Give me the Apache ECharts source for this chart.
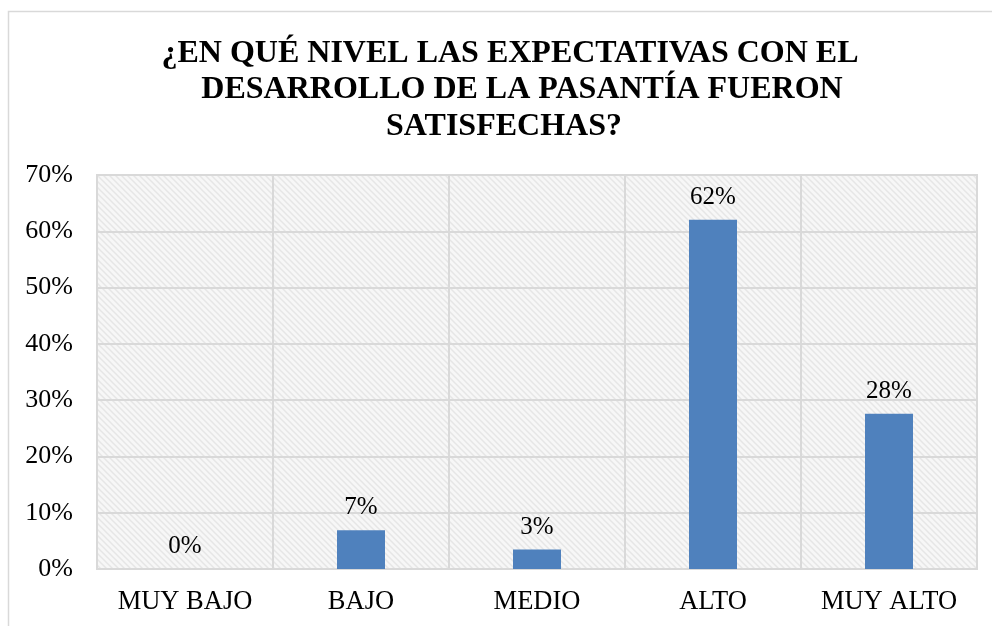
<!DOCTYPE html>
<html>
<head>
<meta charset="utf-8">
<script src="https://cdn.jsdelivr.net/npm/echarts@6/dist/echarts.min.js"></script>
<style>
  html, body { margin: 0; padding: 0; background: #fff; }
  #chart { width: 992px; height: 626px; }
</style>
</head>
<body>
<div id="chart"></div>
<script>
// datos (n = 29)
const categories = ['MUY BAJO', 'BAJO', 'MEDIO', 'ALTO', 'MUY ALTO']
const valores = [0, 6.9, 3.45, 62.07, 27.59]
const yTicks = [0, 10, 20, 30, 40, 50, 60, 70]

const tituloLineas = ['¿EN QUÉ NIVEL LAS EXPECTATIVAS CON EL', 'DESARROLLO DE LA PASANTÍA FUERON', 'SATISFECHAS?']
const fuente = '"Liberation Serif", "Times New Roman", serif'

// trama diagonal del área de trazado
const makePattern = () => {
  const c = document.createElement('canvas')
  c.width = 6
  c.height = 6
  const ctx = c.getContext('2d')
  ctx.fillStyle = '#f7f7f7'
  ctx.fillRect(0, 0, 6, 6)
  ctx.strokeStyle = '#e6e6e6'
  ctx.lineWidth = 1.5
  ctx.beginPath()
  ctx.moveTo(-1, -1)
  ctx.lineTo(7, 7)
  ctx.moveTo(-4, 2)
  ctx.lineTo(4, 10)
  ctx.moveTo(2, -4)
  ctx.lineTo(10, 4)
  ctx.stroke()
  return c
}

// cada línea del título tiene su propio centro, como en el original
const centrosX = [510, 522, 504]
const tituloGraphic = tituloLineas.map((t, i) => ({
  type: 'text',
  x: centrosX[i],
  y: 53.5 + i * 36.5,
  style: {
    text: t,
    align: 'center',
    verticalAlign: 'middle',
    fontFamily: fuente,
    fontWeight: 'bold',
    fontSize: 32,
    fill: '#000'
  },
  silent: true
}))

const chart = echarts.init(document.getElementById('chart'))
chart.setOption({
  animation: false,
  backgroundColor: '#fff',
  graphic: [
    {
      type: 'polyline',
      shape: { points: [[8.5, 640], [8.5, 11.5], [1000, 11.5]] },
      style: { stroke: '#d9d9d9', fill: null, lineWidth: 1.5 },
      silent: true
    },
    ...tituloGraphic
  ],
  grid: {
    left: 97,
    top: 175,
    width: 880,
    height: 394,
    show: true,
    backgroundColor: { image: makePattern(), repeat: 'repeat' },
    borderColor: '#d9d9d9',
    borderWidth: 2
  },
  xAxis: {
    type: 'category',
    data: categories,
    axisLine: { show: true, lineStyle: { color: '#d9d9d9', width: 2 } },
    axisTick: { show: false },
    splitLine: { show: true, interval: 0, lineStyle: { color: '#d9d9d9', width: 2 } },
    axisLabel: {
      interval: 0,
      fontFamily: fuente,
      fontSize: 26.5,
      color: '#000',
      margin: 20
    }
  },
  yAxis: {
    type: 'value',
    min: yTicks[0],
    max: yTicks[yTicks.length - 1],
    interval: 10,
    axisLine: { show: false },
    axisTick: { show: false },
    splitLine: { lineStyle: { color: '#d9d9d9', width: 2 } },
    axisLabel: {
      formatter: '{value}%',
      fontFamily: fuente,
      fontSize: 26,
      color: '#000',
      margin: 24
    }
  },
  series: [
    {
      type: 'bar',
      data: valores,
      barWidth: 48,
      itemStyle: { color: '#4f81bd' },
      label: {
        show: true,
        position: 'top',
        distance: 10,
        fontFamily: fuente,
        fontSize: 25,
        color: '#000',
        formatter: (p) => Math.round(p.value) + '%'
      }
    }
  ]
})
</script>
</body>
</html>
